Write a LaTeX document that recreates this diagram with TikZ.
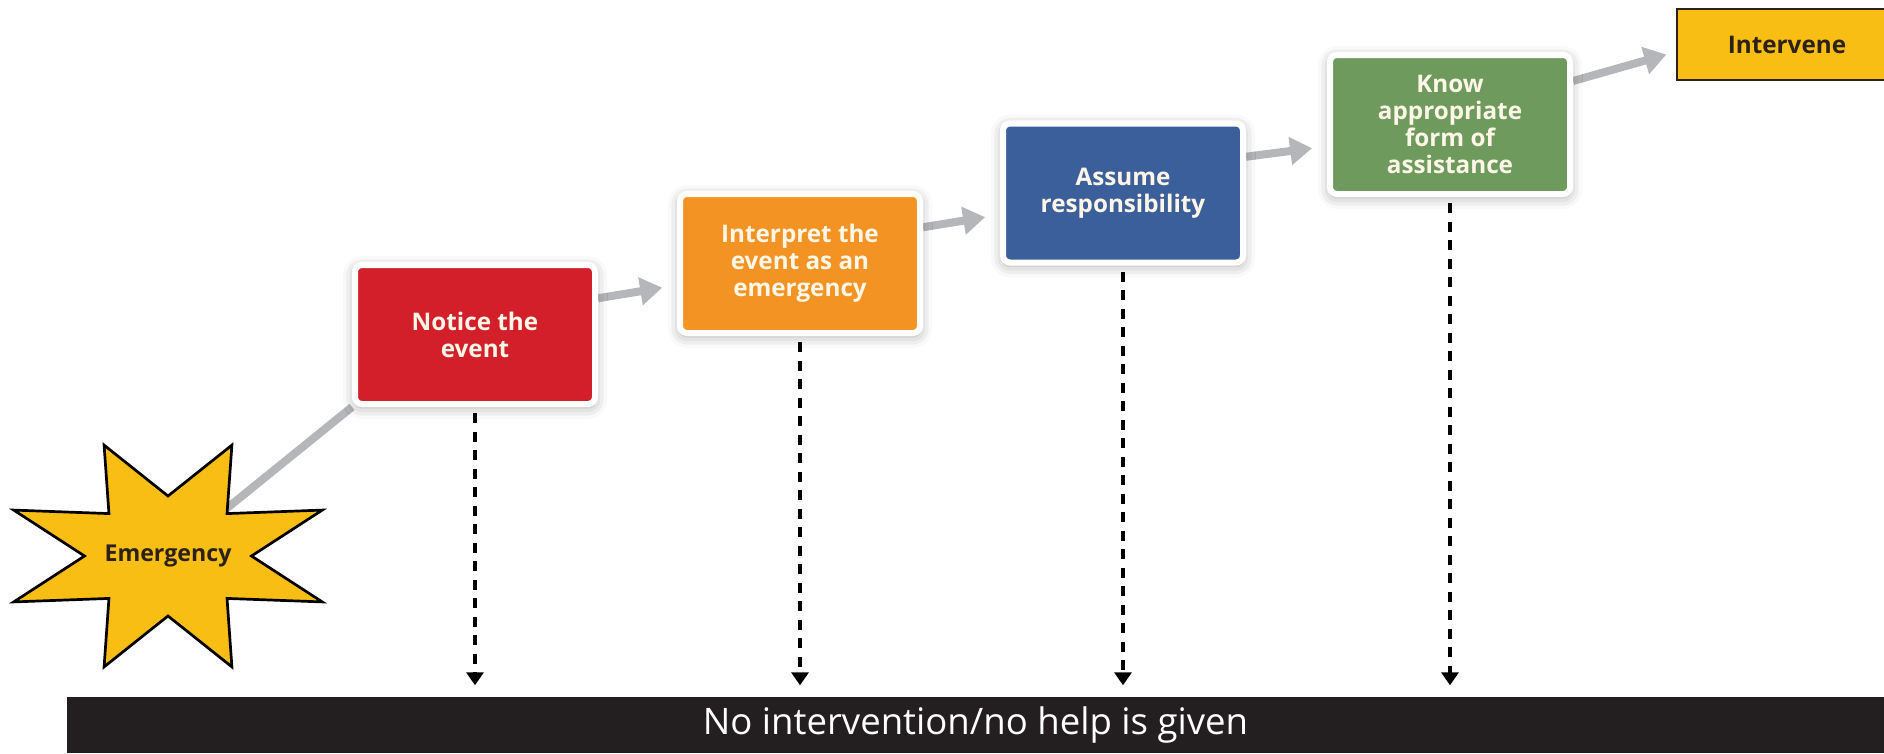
\documentclass[tikz,border=0pt]{standalone}
\usepackage{fontspec}
\setmainfont{Open Sans}
\usepackage{tikz}
\usetikzlibrary{calc,arrows.meta,shadows.blur}
\pgfdeclarelayer{background}
\pgfsetlayers{background,main}
\definecolor{noticered}{RGB}{210,31,42}
\definecolor{interpretorange}{RGB}{243,147,35}
\definecolor{assumeblue}{RGB}{58,95,154}
\definecolor{knowgreen}{RGB}{110,154,94}
\definecolor{emergyellow}{RGB}{249,190,20}
\definecolor{flowgray}{RGB}{180,182,185}
\definecolor{barblack}{RGB}{35,31,32}
\definecolor{boxtext}{RGB}{255,246,232}
\definecolor{darktext}{RGB}{43,33,22}

\begin{document}
\begin{tikzpicture}[
    stepbox/.style={draw=white, line width=0.06cm, rounded corners=0.07cm,
      minimum width=2.40cm, minimum height=1.39cm, align=center, text=boxtext,
      font=\fontsize{6.9}{7.7}\selectfont\bfseries,
      blur shadow={shadow xshift=0pt, shadow yshift=-0.03cm, shadow blur radius=0.12cm, shadow opacity=35}},
    flow/.style={flowgray, line width=0.08cm, -{Triangle[width=0.27cm,length=0.22cm]}},
    dropline/.style={black, line width=0.038cm, dash pattern=on 0.1cm off 0.085cm, -{Triangle[width=0.17cm,length=0.13cm]}}
  ]
  \useasboundingbox (0,0) rectangle (18.84,-7.53);
  % the four steps
  \node[stepbox, fill=noticered] (notice) at (4.75,-3.345) {Notice the\\event};
  \node[stepbox, fill=interpretorange] (interpret) at (8.00,-2.635) {Interpret the\\event as an\\emergency};
  \node[stepbox, fill=assumeblue] (assume) at (11.23,-1.93) {Assume\\responsibility};
  \node[stepbox, fill=knowgreen] (know) at (14.50,-1.245) {Know\\appropriate\\form of\\assistance};
  \node[draw=darktext, line width=0.02cm, fill=emergyellow, minimum width=2.2cm, minimum height=0.71cm,
    text=darktext, font=\fontsize{6.9}{7.7}\selectfont\bfseries] (intervene) at (17.87,-0.445) {Intervene};
  % bottom bar
  \node[fill=barblack, minimum width=18.17cm, minimum height=0.56cm, inner sep=0pt,
    text=white, font=\fontsize{10.4}{12}\selectfont] (nohelp) at (9.755,-7.25) {No intervention/no help is given};
  % star
  \begin{scope}[shift={(1.68,-5.56)}]
    \filldraw[fill=emergyellow, draw=black, line width=0.027cm, line join=miter]
      (0:0.835 and 0.60)
      \foreach \k [evaluate=\k as \r using {mod(\k,2)==1 ? 1 : 0.5}] in {1,...,15} { -- ({\k*22.5}:{1.67*\r} and {1.20*\r}) }
      -- cycle;
  \end{scope}
  \node[text=darktext, font=\fontsize{6.6}{7}\selectfont\bfseries] (emergency) at (1.68,-5.56) {Emergency};
  \begin{pgfonlayer}{background}
    \draw[flowgray, line width=0.08cm] (emergency) -- (notice.south west);
    \foreach \a/\b in {notice/interpret, interpret/assume, assume/know} {
      \draw[flow, shorten >=0.15cm] ($(\a.north east)!0.25!(\a.south east)$) -- ($(\b.north west)!0.65!(\b.south west)$);
    }
    \draw[flow, shorten >=0.1cm] ($(know.north east)!0.2!(know.south east)$) -- ($(intervene.north west)!0.6!(intervene.south west)$);
    \foreach \a in {notice, interpret, assume, know} {
      \draw[dropline, shorten <=0.06cm, shorten >=0.11cm] (\a.south) -- (\a.south |- nohelp.north);
    }
  \end{pgfonlayer}
\end{tikzpicture}
\end{document}
